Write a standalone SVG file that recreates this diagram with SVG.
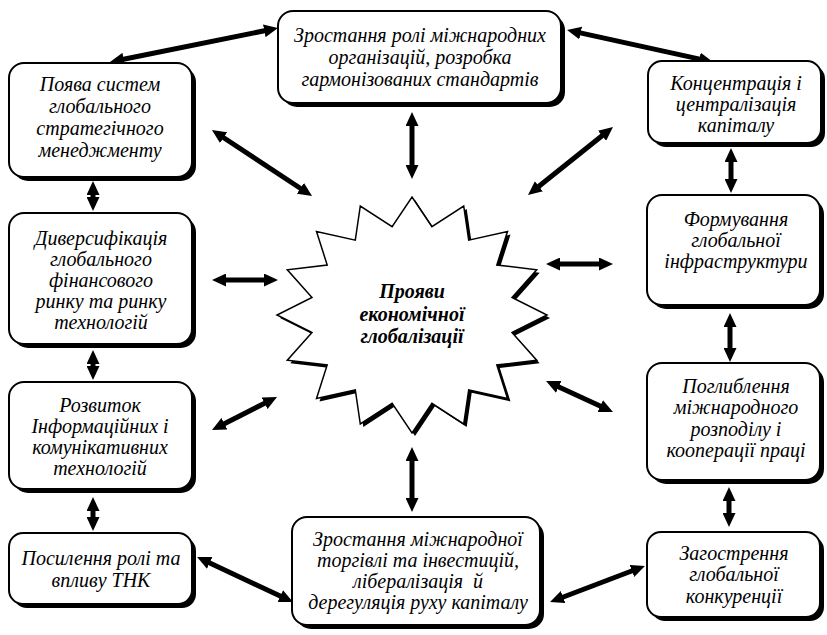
<svg xmlns="http://www.w3.org/2000/svg" width="827" height="635" viewBox="0 0 827 635">
<defs>
<style>
.box{fill:#fff;stroke:#000;stroke-width:2}
.sh{fill:#000}
</style>
<marker id="ah" markerUnits="userSpaceOnUse" markerWidth="14" markerHeight="13" viewBox="0 0 14 13" refX="4" refY="6.5" orient="auto-start-reverse">
<path d="M0,0 L14,6.5 L0,13 z" fill="#000"/>
</marker>
</defs>
<rect width="827" height="635" fill="#fff"/>

<g id="connectors" stroke="#000" stroke-width="5" fill="none" marker-start="url(#ah)" marker-end="url(#ah)">
<line x1="119.8" y1="60" x2="268.2" y2="30"/>
<line x1="576.8" y1="32.1" x2="703.2" y2="59.9"/>
<line x1="412" y1="122" x2="412" y2="169"/>
<line x1="220.3" y1="135.5" x2="303.7" y2="190.5"/>
<line x1="605.2" y1="133.2" x2="535.8" y2="188.8"/>
<line x1="93" y1="191" x2="93" y2="201"/>
<line x1="731" y1="158" x2="731" y2="183"/>
<line x1="222" y1="280" x2="268" y2="280"/>
<line x1="556" y1="264" x2="603" y2="264"/>
<line x1="93" y1="360" x2="93" y2="370"/>
<line x1="730" y1="323" x2="730" y2="352"/>
<line x1="220.9" y1="425.5" x2="268.1" y2="401.5"/>
<line x1="555.1" y1="385.2" x2="603.9" y2="407.8"/>
<line x1="412" y1="457" x2="412" y2="502"/>
<line x1="93" y1="507" x2="93" y2="521"/>
<line x1="729" y1="497" x2="729" y2="517"/>
<line x1="206.1" y1="561.2" x2="283.9" y2="597.8"/>
<line x1="559.4" y1="598.5" x2="635.6" y2="569.5"/>
</g>

<g id="center" font-family="'Liberation Serif', serif" font-style="italic" font-weight="bold" font-size="20" text-anchor="middle">
<polygon class="sh" transform="translate(3,3)" points="412,197 431.9,226.7 463.7,206 468.7,240.2 507.5,231.6 496.8,265 536.7,269.8 512,297.4 547,315 512,332.6 536.7,360.2 496.8,365 507.5,398.4 468.7,389.8 463.7,424 431.9,403.3 412,433 392.1,403.3 360.3,424 355.3,389.8 316.5,398.4 327.2,365 287.3,360.2 312,332.6 277,315 312,297.4 287.3,269.8 327.2,265 316.5,231.6 355.3,240.2 360.3,206 392.1,226.7"/>
<polygon fill="#fff" stroke="#000" stroke-width="1.5" points="412,197 431.9,226.7 463.7,206 468.7,240.2 507.5,231.6 496.8,265 536.7,269.8 512,297.4 547,315 512,332.6 536.7,360.2 496.8,365 507.5,398.4 468.7,389.8 463.7,424 431.9,403.3 412,433 392.1,403.3 360.3,424 355.3,389.8 316.5,398.4 327.2,365 287.3,360.2 312,332.6 277,315 312,297.4 287.3,269.8 327.2,265 316.5,231.6 355.3,240.2 360.3,206 392.1,226.7"/>
<text x="412" y="298">Прояви</text>
<text x="412" y="321">економічної</text>
<text x="412" y="343">глобалізації</text>
</g>

<g id="n-top" font-family="'Liberation Serif', serif" font-style="italic" font-size="20" text-anchor="middle">
<rect class="sh" x="282" y="15" width="283" height="92" rx="15"/>
<rect class="box" x="278" y="11" width="283" height="92" rx="15"/>
<text x="420" y="42">Зростання ролі міжнародних</text>
<text x="420" y="64">організацій, розробка</text>
<text x="420" y="86">гармонізованих стандартів</text>
</g>

<g id="n-l1" font-family="'Liberation Serif', serif" font-style="italic" font-size="20" text-anchor="middle">
<rect class="sh" x="13" y="67" width="183" height="114" rx="15"/>
<rect class="box" x="9" y="63" width="183" height="114" rx="15"/>
<text x="100" y="91">Поява систем</text>
<text x="100" y="113">глобального</text>
<text x="100" y="135">стратегічного</text>
<text x="100" y="157">менеджменту</text>
</g>

<g id="n-l2" font-family="'Liberation Serif', serif" font-style="italic" font-size="20" text-anchor="middle">
<rect class="sh" x="13" y="217" width="183" height="131" rx="15"/>
<rect class="box" x="9" y="213" width="183" height="131" rx="15"/>
<text x="101" y="245">Диверсифікація</text>
<text x="101" y="266">глобального</text>
<text x="101" y="287">фінансового</text>
<text x="101" y="308">ринку та ринку</text>
<text x="101" y="329">технологій</text>
</g>

<g id="n-l3" font-family="'Liberation Serif', serif" font-style="italic" font-size="20" text-anchor="middle">
<rect class="sh" x="13" y="386" width="183" height="107" rx="15"/>
<rect class="box" x="9" y="382" width="183" height="107" rx="15"/>
<text x="100" y="412">Розвиток</text>
<text x="100" y="433">Інформаційних і</text>
<text x="100" y="454">комунікативних</text>
<text x="100" y="475">технологій</text>
</g>

<g id="n-l4" font-family="'Liberation Serif', serif" font-style="italic" font-size="20" text-anchor="middle">
<rect class="sh" x="13" y="537" width="183" height="71" rx="14"/>
<rect class="box" x="9" y="533" width="183" height="71" rx="14"/>
<text x="101" y="565">Посилення ролі та</text>
<text x="101" y="587">впливу ТНК</text>
</g>

<g id="n-bottom" font-family="'Liberation Serif', serif" font-style="italic" font-size="20" text-anchor="middle">
<rect class="sh" x="296" y="521" width="248" height="108" rx="15"/>
<rect class="box" x="292" y="517" width="248" height="108" rx="15"/>
<text x="418" y="546">Зростання міжнародної</text>
<text x="418" y="567">торгівлі та інвестицій,</text>
<text x="418" y="588" xml:space="preserve">лібералізація  й</text>
<text x="418" y="609">дерегуляція руху капіталу</text>
</g>

<g id="n-r1" font-family="'Liberation Serif', serif" font-style="italic" font-size="20" text-anchor="middle">
<rect class="sh" x="652" y="65" width="173" height="82" rx="14"/>
<rect class="box" x="648" y="61" width="173" height="82" rx="14"/>
<text x="736" y="90">Концентрація і</text>
<text x="736" y="111">централізація</text>
<text x="736" y="132">капіталу</text>
</g>

<g id="n-r2" font-family="'Liberation Serif', serif" font-style="italic" font-size="20" text-anchor="middle">
<rect class="sh" x="651" y="199" width="173" height="110" rx="15"/>
<rect class="box" x="647" y="195" width="173" height="110" rx="15"/>
<text x="736" y="226">Формування</text>
<text x="736" y="247">глобальної</text>
<text x="736" y="268">інфраструктури</text>
</g>

<g id="n-r3" font-family="'Liberation Serif', serif" font-style="italic" font-size="20" text-anchor="middle">
<rect class="sh" x="651" y="367" width="173" height="117" rx="15"/>
<rect class="box" x="647" y="363" width="173" height="117" rx="15"/>
<text x="736" y="393">Поглиблення</text>
<text x="736" y="414">міжнародного</text>
<text x="736" y="436">розподілу і</text>
<text x="736" y="457">кооперації праці</text>
</g>

<g id="n-r4" font-family="'Liberation Serif', serif" font-style="italic" font-size="20" text-anchor="middle">
<rect class="sh" x="651" y="536" width="173" height="85" rx="14"/>
<rect class="box" x="647" y="532" width="173" height="85" rx="14"/>
<text x="734" y="560">Загострення</text>
<text x="734" y="581">глобальної</text>
<text x="734" y="603">конкуренції</text>
</g>
</svg>
